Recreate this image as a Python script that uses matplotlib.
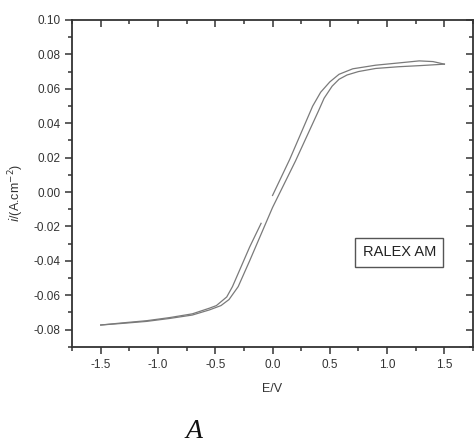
import matplotlib
matplotlib.use('Agg')
import matplotlib.pyplot as plt
from matplotlib.ticker import MultipleLocator

# forward sweep, first part (from -1.5 V up to about -0.1 V)
e_fwd1 = [-1.5, -1.3, -1.1, -0.9, -0.7, -0.55, -0.49, -0.4, -0.35, -0.288, -0.2, -0.1]
i_fwd1 = [-0.0773, -0.0760, -0.0748, -0.0730, -0.0708, -0.0675, -0.0660, -0.0610,
          -0.0550, -0.0455, -0.0320, -0.0182]

# forward sweep, second part (from 0 V up to 1.5 V)
e_fwd2 = [0.0, 0.15, 0.35, 0.42, 0.5, 0.58, 0.7, 0.9, 1.1, 1.28, 1.4, 1.5]
i_fwd2 = [-0.0020, 0.0190, 0.0499, 0.0580, 0.0640, 0.0684, 0.0716, 0.0737,
          0.0750, 0.0762, 0.0758, 0.0743]

# reverse sweep (from 1.5 V down to -1.5 V)
e_rev = [1.5, 1.3, 1.1, 0.9, 0.75, 0.65, 0.58, 0.52, 0.45, 0.4, 0.2, 0.0,
         -0.2, -0.3, -0.38, -0.45, -0.55, -0.7, -0.9, -1.1, -1.3, -1.5]
i_rev = [0.0743, 0.0735, 0.0728, 0.0718, 0.0700, 0.0680, 0.0655, 0.0615,
         0.0545, 0.0470, 0.0180, -0.0090, -0.0400, -0.0550, -0.0625, -0.0660,
         -0.0685, -0.0715, -0.0735, -0.0752, -0.0763, -0.0773]

plt.rcParams['font.family'] = ['Liberation Sans', 'DejaVu Sans']

fig = plt.figure(figsize=(4.74, 4.43), dpi=100)
ax = fig.add_axes([0.152, 0.217, 0.846, 0.738])

line_col = '#7a7a7a'
ax.plot(e_fwd1, i_fwd1, color=line_col, lw=0.9)
ax.plot(e_fwd2, i_fwd2, color=line_col, lw=0.9)
ax.plot(e_rev, i_rev, color=line_col, lw=0.9)

ax.set_xlim(-1.75, 1.75)
ax.set_ylim(-0.09, 0.10)

ax.xaxis.set_major_locator(MultipleLocator(0.5))
ax.xaxis.set_minor_locator(MultipleLocator(0.25))
ax.yaxis.set_major_locator(MultipleLocator(0.02))
ax.yaxis.set_minor_locator(MultipleLocator(0.01))
ax.xaxis.set_major_formatter(plt.FuncFormatter(lambda v, p: '%.1f' % v))
ax.yaxis.set_major_formatter(plt.FuncFormatter(lambda v, p: '%.2f' % v))

for s in ax.spines.values():
    s.set_color('#333333')
    s.set_linewidth(1.3)

ax.tick_params(which='both', direction='out', color='#333333', labelcolor='#333333',
               labelsize=8.5, width=1.1)
ax.tick_params(which='major', length=5)
ax.tick_params(which='minor', length=3)

# inward ticks on top and right
ax2 = ax.secondary_xaxis('top')
ax2.xaxis.set_major_locator(MultipleLocator(0.5))
ax2.xaxis.set_minor_locator(MultipleLocator(0.25))
ax2.tick_params(which='both', direction='in', labeltop=False, color='#333333', width=1.1)
ax2.tick_params(which='major', length=5)
ax2.tick_params(which='minor', length=3)
ax3 = ax.secondary_yaxis('right')
ax3.yaxis.set_major_locator(MultipleLocator(0.02))
ax3.yaxis.set_minor_locator(MultipleLocator(0.01))
ax3.tick_params(which='both', direction='in', labelright=False, color='#333333', width=1.1)
ax3.tick_params(which='major', length=5)
ax3.tick_params(which='minor', length=3)
ax2.spines['top'].set_visible(False)
ax3.spines['right'].set_visible(False)

ax.set_xlabel('E/V', fontsize=9, color='#333333', labelpad=9)
ax.set_ylabel(r'$i$/(A.cm$^{-2}$)', fontsize=9, color='#333333', labelpad=2)
ax.yaxis.set_label_coords(-0.115, 0.47)

ax.text(1.107, -0.035, 'RALEX AM', fontsize=10.5, color='#222222', ha='center', va='center',
        bbox=dict(boxstyle='square,pad=0.5', fc='white', ec='#555555', lw=1.0))

fig.text(0.41, 0.012, 'A', fontsize=20, style='italic', family='Liberation Serif',
         ha='center', va='baseline', color='#111111')

fig.savefig('out.png', dpi=100)
